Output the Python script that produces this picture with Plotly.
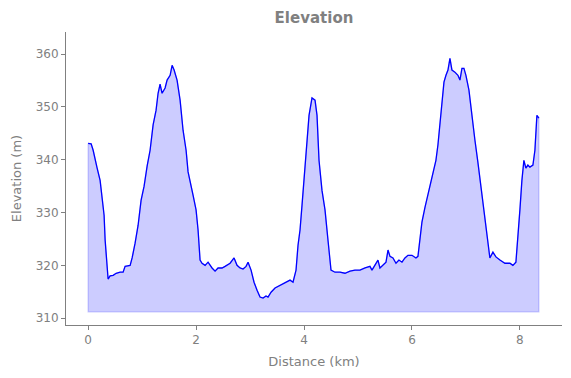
import plotly.graph_objects as go

distance_km = [0.0, 0.056, 0.093, 0.13, 0.167, 0.222, 0.259, 0.296, 0.315, 0.352, 0.37, 0.407,
               0.463, 0.519, 0.593, 0.648, 0.685, 0.778, 0.815, 0.87, 0.926, 0.981, 1.037, 1.093,
               1.148, 1.204, 1.259, 1.296, 1.333, 1.37, 1.426, 1.463, 1.519, 1.556, 1.593, 1.648,
               1.704, 1.759, 1.815, 1.852, 1.889, 1.944, 2.0, 2.037, 2.074, 2.111, 2.167, 2.222,
               2.296, 2.352, 2.407, 2.481, 2.537, 2.63, 2.704, 2.759, 2.815, 2.87, 2.926, 2.963,
               3.019, 3.074, 3.13, 3.185, 3.241, 3.296, 3.333, 3.389, 3.463, 3.556, 3.648, 3.741,
               3.796, 3.815, 3.852, 3.889, 3.926, 3.963, 4.0, 4.037, 4.093, 4.148, 4.204, 4.241,
               4.278, 4.333, 4.389, 4.444, 4.5, 4.574, 4.667, 4.759, 4.852, 4.944, 5.037, 5.13,
               5.222, 5.259, 5.315, 5.37, 5.407, 5.463, 5.519, 5.556, 5.593, 5.648, 5.704, 5.759,
               5.815, 5.87, 5.926, 6.0, 6.074, 6.111, 6.148, 6.185, 6.241, 6.296, 6.352, 6.407,
               6.444, 6.481, 6.519, 6.556, 6.593, 6.63, 6.667, 6.704, 6.741, 6.796, 6.852, 6.889,
               6.926, 6.963, 7.0, 7.056, 7.111, 7.167, 7.222, 7.278, 7.333, 7.389, 7.444, 7.5,
               7.556, 7.63, 7.722, 7.815, 7.87, 7.926, 7.963, 8.0, 8.037, 8.074, 8.111, 8.148,
               8.185, 8.241, 8.278, 8.315, 8.352]

elevation_m = [343.1, 343.0, 341.8, 339.9, 338.4, 336.1, 333.3, 329.5, 324.8, 320.4, 317.4, 318.0,
               318.1, 318.5, 318.7, 318.7, 319.8, 320.0, 321.4, 324.2, 327.6, 332.3, 335.0, 338.8,
               341.8, 346.6, 349.4, 352.6, 354.3, 352.6, 353.6, 355.1, 356.0, 357.9, 357.0, 355.1,
               351.3, 345.6, 341.8, 337.7, 336.1, 333.3, 330.5, 326.7, 321.0, 320.4, 320.0, 320.6,
               319.5, 318.9, 319.5, 319.5, 319.8, 320.4, 321.4, 320.0, 319.5, 319.3, 319.8, 320.6,
               319.1, 316.8, 315.3, 314.0, 313.8, 314.2, 314.0, 314.9, 315.7, 316.2, 316.6, 317.2,
               316.8, 317.6, 319.1, 323.8, 326.7, 331.4, 336.1, 341.8, 348.4, 351.7, 351.3, 348.4,
               339.9, 334.2, 330.5, 324.8, 319.1, 318.7, 318.7, 318.5, 318.9, 319.1, 319.1, 319.5,
               319.8, 319.1, 320.2, 321.0, 319.5, 320.0, 320.6, 322.9, 321.7, 321.4, 320.4, 321.0,
               320.6, 321.4, 321.9, 321.9, 321.4, 321.7, 324.8, 328.2, 331.0, 333.3, 336.1, 338.4,
               339.9, 342.8, 346.6, 351.3, 354.7, 356.0, 357.0, 359.2, 357.0, 356.6, 356.0, 355.1,
               357.3, 357.3, 356.0, 353.2, 347.9, 343.7, 339.5, 335.2, 330.5, 325.7, 321.4, 322.5,
               321.6, 321.0, 320.4, 320.4, 320.0, 320.6, 324.8, 330.5, 336.1, 339.9, 338.4, 339.0,
               338.6, 339.0, 341.8, 348.4, 347.9]

fill_base_m = 311.2
x_ticks = [0, 2, 4, 6, 8]
y_ticks = [310, 320, 330, 340, 350, 360]

gray = "#808080"
font_family = "DejaVu Sans, sans-serif"

poly_x = distance_km + [distance_km[-1], distance_km[0], distance_km[0]]
poly_y = elevation_m + [fill_base_m, fill_base_m, elevation_m[0]]

fig = go.Figure()
fig.add_trace(go.Scatter(
    x=poly_x, y=poly_y, mode="lines", fill="toself",
    fillcolor="rgba(0,0,255,0.2)", line=dict(color="rgba(0,0,255,0.2)", width=1.2),
    hoverinfo="skip", showlegend=False))
fig.add_trace(go.Scatter(
    x=distance_km, y=elevation_m, mode="lines",
    line=dict(color="#0000ff", width=1.3), showlegend=False))

fig.update_layout(
    width=571, height=378,
    margin=dict(l=66, r=9, t=32, b=53, autoexpand=False),
    paper_bgcolor="white", plot_bgcolor="white",
    font=dict(family=font_family, color=gray, size=12),
    title=dict(text="<b>Elevation</b>", x=0.5, xref="paper", xanchor="center",
               y=1 - 18 / 378, yref="container", yanchor="middle", automargin=False,
               font=dict(family=font_family, size=15, color=gray)),
)
fig.update_xaxes(
    range=[-0.41, 8.78], tickvals=x_ticks, ticktext=[str(v) for v in x_ticks],
    showgrid=False, zeroline=False, showline=True, linecolor=gray, linewidth=1,
    ticks="outside", ticklen=4, tickcolor=gray, automargin=False,
    tickfont=dict(size=12, color=gray),
    title=dict(text="Distance (km)", font=dict(size=13, color=gray), standoff=10))
fig.update_yaxes(
    range=[308.7, 364.2], tickvals=y_ticks, ticktext=[str(v) for v in y_ticks],
    showgrid=False, zeroline=False, showline=True, linecolor=gray, linewidth=1,
    ticks="outside", ticklen=4, tickcolor=gray, automargin=False,
    tickfont=dict(size=12, color=gray),
    title=dict(text="Elevation (m)", font=dict(size=13, color=gray), standoff=11))

fig.write_html("out.html", config={"displayModeBar": False},
               post_script="document.body.style.margin='0';document.body.style.overflow='hidden';")
